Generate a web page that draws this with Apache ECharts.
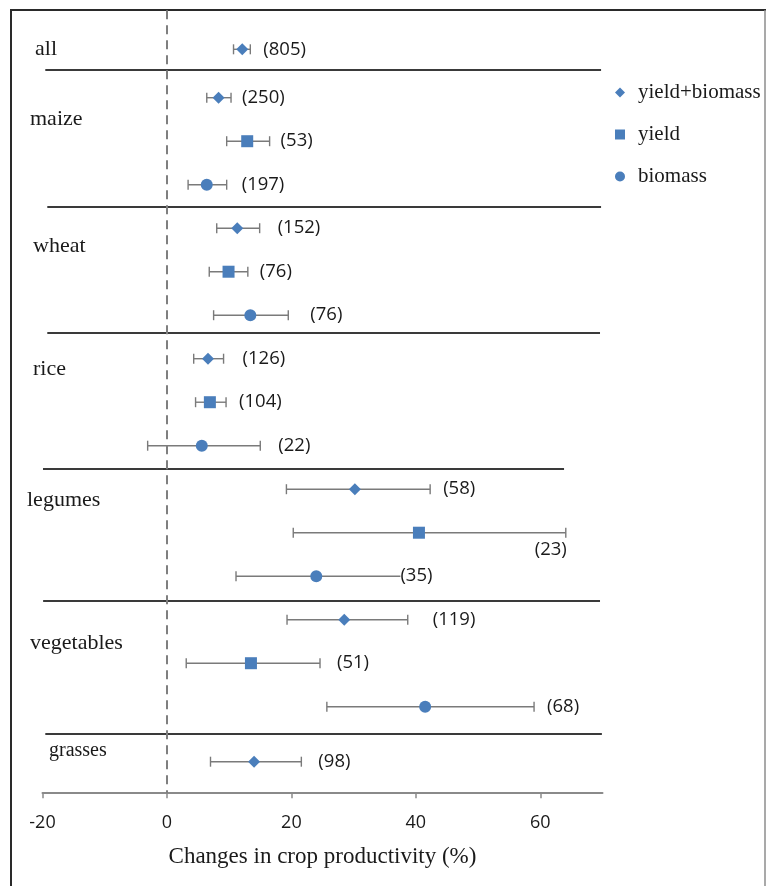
<!DOCTYPE html>
<html>
<head>
<meta charset="utf-8">
<script src="https://cdn.jsdelivr.net/npm/echarts@6/dist/echarts.min.js"></script>
<style>
  html, body { margin: 0; padding: 0; background: #ffffff; }
  #chart { width: 766px; height: 886px; }
</style>
</head>
<body>
<div id="chart"></div>
<script>
// Crop groups and one row per effect estimate
const groupNames = ['all', 'maize', 'wheat', 'rice', 'legumes', 'vegetables', 'grasses'];
const rowGroups  = [0, 1, 1, 1, 2, 2, 2, 3, 3, 3, 4, 4, 4, 5, 5, 5, 6];
const rowTypes   = ['yield+biomass',
  'yield+biomass', 'yield', 'biomass',
  'yield+biomass', 'yield', 'biomass',
  'yield+biomass', 'yield', 'biomass',
  'yield+biomass', 'yield', 'biomass',
  'yield+biomass', 'yield', 'biomass',
  'yield+biomass'];
// Mean change in productivity (%) with 95% confidence limits
const meanChange = [12.1, 8.3, 12.9, 6.4, 11.3, 9.9, 13.4, 6.6, 6.9, 5.6, 30.2, 40.5, 24.0, 28.5, 13.5, 41.5, 14.0];
const ciLow      = [10.7, 6.4, 9.6, 3.4, 8.0, 6.8, 7.5, 4.3, 4.6, -3.1, 19.2, 20.3, 11.1, 19.3, 3.1, 25.7, 7.0];
const ciHigh     = [13.4, 10.3, 16.5, 9.6, 14.9, 13.0, 19.5, 9.1, 9.5, 15.0, 42.3, 64.1, 38.0, 38.7, 24.6, 59.0, 21.6];
// Number of observations behind each estimate
const sampleSize = [805, 250, 53, 197, 152, 76, 76, 126, 104, 22, 58, 23, 35, 119, 51, 68, 98];
const seriesTypes = ['yield+biomass', 'yield', 'biomass'];
const xTicks = [-20, 0, 20, 40, 60];

// ---- layout ----
// vertical slot of each row (one unit per row, small extra gaps around 'all' and 'grasses')
const extraGapBeforeGroup = [0, 0.113, 0, 0, 0, 0, 0.264];
const rowSlot = [];
(function () {
  let offset = 0, prevGroup = -1;
  rowGroups.forEach(function (g, i) {
    if (g !== prevGroup) { offset += extraGapBeforeGroup[g]; prevGroup = g; }
    rowSlot.push(i + offset);
  });
})();
// where the group names sit, and where they start horizontally (px)
const groupLabelSlot = [0, 1.613, 4.522, 7.361, 10.372, 13.648, 16.133];
const groupLabelLeft = [35, 30, 33, 33, 27, 30, 49];
const groupLabelSize = [22, 22, 22, 22, 22, 22, 20];
// horizontal dividers between groups: [slot, xFrom, xTo]
const dividers = [
  [0.476, -19.55, 69.77],
  [3.618, -19.23, 69.77],
  [6.506, -19.23, 69.6],
  [9.632, -19.92, 63.82],
  [12.683, -19.9, 69.6],
  [15.724, -19.55, 69.9]
];
// gap (px) between the upper whisker and the count label; 'below' puts it under the whisker end
const labelGapPx = [13, 11, 11, 15, 18, 12, 22, 19, 13, 18, 13, 'below', -3, 25, 17, 13, 17];

const MARK_BLUE = '#4a7ebb';
const BAR_GREY = '#7a7a7a';
const SERIF = '"Liberation Serif", "Times New Roman", serif';
const SANS = '"Open Sans", "Noto Sans", sans-serif';
const symbolFor = { 'yield+biomass': 'diamond', 'yield': 'rect', 'biomass': 'circle' };
const symbolSizeFor = { 'yield+biomass': 12, 'yield': 12, 'biomass': 12 };

const ciData = meanChange.map(function (m, i) {
  return [ciLow[i], ciHigh[i], rowSlot[i], sampleSize[i], i];
});

const scatterSeries = seriesTypes.map(function (t) {
  const pts = [];
  rowTypes.forEach(function (rt, i) {
    if (rt === t) pts.push([meanChange[i], rowSlot[i]]);
  });
  return {
    name: t,
    type: 'scatter',
    data: pts,
    symbol: symbolFor[t],
    symbolSize: symbolSizeFor[t],
    itemStyle: { color: MARK_BLUE, opacity: 1 },
    z: 5,
    silent: true,
    clip: false
  };
});

const dividerLines = dividers.map(function (d) {
  return [
    { coord: [d[1], d[0]], lineStyle: { color: '#3a3a3a', width: 2, type: 'solid' } },
    { coord: [d[2], d[0]] }
  ];
});
const zeroLine = [
  { coord: [0, -0.9], lineStyle: { color: '#7f7f7f', width: 2, type: [9, 6] } },
  { coord: [0, 17.1] }
];

const chart = echarts.init(document.getElementById('chart'), null, { renderer: 'canvas' });

chart.setOption({
  backgroundColor: '#ffffff',
  animation: false,
  grid: { left: 42.5, right: 163.5, top: 5.8, bottom: 92.85 },
  xAxis: {
    type: 'value',
    min: -20,
    max: 70,
    interval: 20,
    splitLine: { show: false },
    axisLine: { show: true, onZero: false, lineStyle: { color: '#8a8a8a', width: 2 } },
    axisTick: { show: true, inside: false, length: 5, customValues: xTicks, lineStyle: { color: '#8a8a8a', width: 1.5 } },
    axisLabel: {
      customValues: xTicks,
      margin: 21,
      color: '#1a1a1a',
      fontFamily: SANS,
      fontSize: 18
    },
    name: 'Changes in crop productivity (%)',
    nameLocation: 'middle',
    nameGap: 52,
    nameTextStyle: { color: '#1a1a1a', fontFamily: SERIF, fontSize: 23 }
  },
  yAxis: {
    type: 'value',
    inverse: true,
    min: -1,
    max: 17.1,
    show: false
  },
  legend: {
    orient: 'vertical',
    left: 610,
    top: 77,
    itemWidth: 10,
    itemHeight: 10,
    itemGap: 21,
    data: [
      { name: 'yield+biomass', icon: 'diamond', itemStyle: { color: MARK_BLUE } },
      { name: 'yield', icon: 'rect', itemStyle: { color: MARK_BLUE } },
      { name: 'biomass', icon: 'circle', itemStyle: { color: MARK_BLUE } }
    ],
    textStyle: { color: '#1a1a1a', fontFamily: SERIF, fontSize: 21, padding: [0, 0, 0, 8] },
    selectedMode: false
  },
  graphic: [
    { type: 'line', shape: { x1: 10, y1: 10, x2: 766, y2: 10 }, style: { stroke: '#2a2a2a', lineWidth: 2 }, silent: true },
    { type: 'line', shape: { x1: 11, y1: 9, x2: 11, y2: 886 }, style: { stroke: '#2a2a2a', lineWidth: 2 }, silent: true },
    { type: 'line', shape: { x1: 765, y1: 10, x2: 765, y2: 886 }, style: { stroke: '#8c8c8c', lineWidth: 1.5 }, silent: true }
  ],
  series: [
    {
      name: 'ci',
      type: 'custom',
      data: ciData,
      clip: false,
      silent: true,
      z: 3,
      renderItem: function (params, api) {
        const y = api.value(2);
        const lo = api.coord([api.value(0), y]);
        const hi = api.coord([api.value(1), y]);
        const idx = api.value(4);
        const cap = 5;
        const lineStyle = { stroke: BAR_GREY, lineWidth: 1.4 };
        const gap = labelGapPx[idx];
        const textStyle = {
          text: '(' + api.value(3) + ')',
          fill: '#1a1a1a',
          font: '18.5px ' + SANS
        };
        if (gap === 'below') {
          textStyle.x = hi[0] + 1;
          textStyle.y = hi[1] + 17;
          textStyle.align = 'right';
          textStyle.verticalAlign = 'middle';
        } else {
          textStyle.x = hi[0] + gap;
          textStyle.y = hi[1];
          textStyle.align = 'left';
          textStyle.verticalAlign = 'middle';
          if (gap < 0) {
            // label sits over the whisker end
            textStyle.backgroundColor = '#ffffff';
          }
        }
        return {
          type: 'group',
          children: [
            { type: 'line', shape: { x1: lo[0], y1: lo[1], x2: hi[0], y2: hi[1] }, style: lineStyle },
            { type: 'line', shape: { x1: lo[0], y1: lo[1] - cap, x2: lo[0], y2: lo[1] + cap }, style: lineStyle },
            { type: 'line', shape: { x1: hi[0], y1: hi[1] - cap, x2: hi[0], y2: hi[1] + cap }, style: lineStyle },
            { type: 'text', style: textStyle, z2: 10 }
          ]
        };
      },
      markLine: {
        silent: true,
        symbol: ['none', 'none'],
        label: { show: false },
        animation: false,
        data: dividerLines.concat([zeroLine])
      }
    },
    {
      name: 'groups',
      type: 'custom',
      data: groupNames.map(function (g, i) { return [0, groupLabelSlot[i], i]; }),
      clip: false,
      silent: true,
      renderItem: function (params, api) {
        const gi = api.value(2);
        const p = api.coord([0, api.value(1)]);
        return {
          type: 'text',
          style: {
            text: groupNames[gi],
            x: groupLabelLeft[gi],
            y: p[1],
            align: 'left',
            verticalAlign: 'middle',
            fill: '#1a1a1a',
            font: groupLabelSize[gi] + 'px ' + SERIF
          }
        };
      }
    }
  ].concat(scatterSeries)
});
</script>
</body>
</html>
